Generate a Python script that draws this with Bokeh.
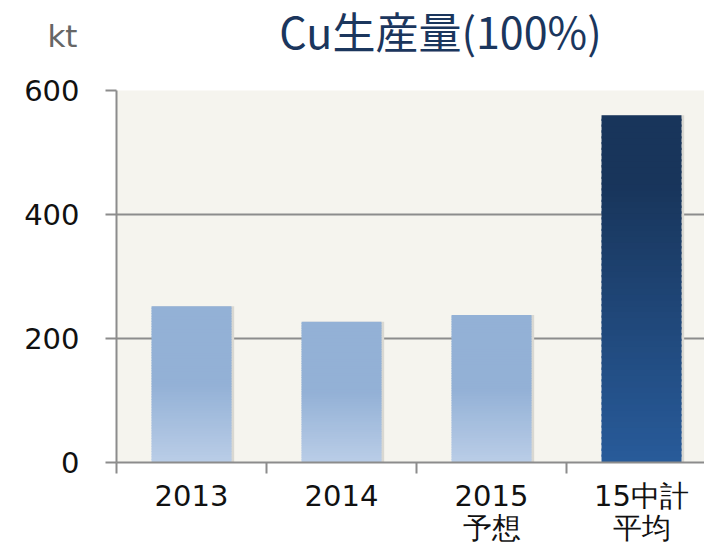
from bokeh.plotting import figure
from bokeh.layouts import column
from bokeh.models import Range1d, FixedTicker, ColumnDataSource, LinearAxis
from bokeh.core.properties import value
from bokeh.embed import file_html
from bokeh.resources import INLINE

# ---- data ----
categories = ["2013", "2014", "2015\n予想", "15中計\n平均"]
values = [252, 227, 238, 560]
kinds = ["light", "light", "light", "dark"]
y_ticks = [0, 200, 400, 600]
title_text = "Cu生産量(100%)"
unit_text = "kt"

# ---- gradient helpers ----
LIGHT_TOP = (147, 177, 214)
LIGHT_BOT = (186, 205, 231)
DARK_TOP = (24, 53, 91)
DARK_BOT = (40, 91, 154)


def mix(a, b, t):
    return "#%02x%02x%02x" % tuple(int(round(a[i] + (b[i] - a[i]) * t)) for i in range(3))


def shade(kind, t):
    # t: 0 at bar top, 1 at bar bottom
    if kind == "light":
        if t < 0.5:
            return mix(LIGHT_TOP, LIGHT_TOP, 0)
        return mix(LIGHT_TOP, LIGHT_BOT, (t - 0.5) / 0.5)
    if t < 0.2:
        return mix(DARK_TOP, DARK_TOP, 0)
    return mix(DARK_TOP, DARK_BOT, (t - 0.2) / 0.8)


N = 60
xs, bots, tops, cols = [], [], [], []
for i, (v, kind) in enumerate(zip(values, kinds)):
    for k in range(N):
        b = v * k / N
        t = min(v, v * (k + 1.4) / N)
        frac = 1 - (k + 0.5) / N
        xs.append(i + 0.5)
        bots.append(b)
        tops.append(t)
        cols.append(shade(kind, frac))
src = ColumnDataSource(dict(x=xs, bottom=bots, top=tops, color=cols))
shadow_src = ColumnDataSource(dict(x=[i + 0.5 + 0.012 for i in range(len(values))], top=values))

# ---- header strip (title and unit) ----
HEADER_H = 60
LEFT = 116
header = figure(width=704, height=HEADER_H,
                x_range=Range1d(LEFT, 704), y_range=Range1d(HEADER_H, 0),
                output_backend="svg", toolbar_location=None,
                x_axis_location=None, y_axis_location=None,
                min_border_left=LEFT, min_border_right=0,
                min_border_top=0, min_border_bottom=0)
header.outline_line_color = None
header.background_fill_color = "white"
header.border_fill_color = "white"
header.xgrid.visible = False
header.ygrid.visible = False
header.text(x=[440], y=[29], text=[title_text], text_align="center",
            text_baseline="alphabetic", text_font=value("Noto Sans CJK JP"),
            text_font_size="43px", text_color="#1B365D")
# unit label placed as a tick label of an invisible axis (outside the frame)
unit_axis = LinearAxis(ticker=FixedTicker(ticks=[35], minor_ticks=[]))
unit_axis.major_label_overrides = {35: unit_text}
unit_axis.axis_line_color = None
unit_axis.major_tick_line_color = None
unit_axis.major_tick_in = 0
unit_axis.major_tick_out = 0
unit_axis.major_label_standoff = 39
unit_axis.major_label_text_font = "DejaVu Sans"
unit_axis.major_label_text_font_size = "31px"
unit_axis.major_label_text_color = "#666666"
header.add_layout(unit_axis, "left")

# ---- main chart ----
p = figure(width=704, height=556 - HEADER_H,
           x_range=Range1d(0, 3.92), y_range=Range1d(0, 600),
           output_backend="svg", toolbar_location=None,
           x_axis_location=None, y_axis_location=None,
           min_border_left=LEFT, min_border_right=0,
           min_border_top=90 - HEADER_H, min_border_bottom=94)
p.outline_line_color = None
p.background_fill_color = "#F5F4EE"
p.border_fill_color = "white"

# y axis
yaxis = LinearAxis(ticker=FixedTicker(ticks=y_ticks, minor_ticks=[]))
yaxis.axis_line_color = "#8C8C8C"
yaxis.axis_line_width = 2
yaxis.major_tick_line_color = "#8C8C8C"
yaxis.major_tick_line_width = 2
yaxis.major_tick_in = 0
yaxis.major_tick_out = 11
yaxis.major_label_standoff = 26
yaxis.major_label_text_font = "DejaVu Sans"
yaxis.major_label_text_font_size = "29px"
yaxis.major_label_text_color = "#111111"
p.add_layout(yaxis, "left")

# x axis
centers = [i + 0.5 for i in range(len(categories))]
bounds = [float(i) for i in range(len(categories))]
xaxis = LinearAxis(ticker=FixedTicker(ticks=centers, minor_ticks=bounds))
xaxis.major_label_overrides = {c: lab for c, lab in zip(centers, categories)}
xaxis.axis_line_color = "#8C8C8C"
xaxis.axis_line_width = 2
xaxis.major_tick_line_color = None
xaxis.minor_tick_line_color = "#8C8C8C"
xaxis.minor_tick_line_width = 2
xaxis.minor_tick_in = 0
xaxis.minor_tick_out = 11
xaxis.major_tick_in = 0
xaxis.major_tick_out = 0
xaxis.major_label_standoff = 5
xaxis.major_label_text_font = "DejaVu Sans"
xaxis.major_label_text_font_size = "29px"
xaxis.major_label_text_line_height = 0.95
xaxis.major_label_text_color = "#111111"
p.add_layout(xaxis, "below")

p.ygrid.ticker = FixedTicker(ticks=y_ticks)
p.ygrid.grid_line_color = "#8C8C8C"
p.ygrid.grid_line_width = 2
p.xgrid.grid_line_color = None

# subtle shadow then gradient bars
p.vbar(x="x", top="top", bottom=0, width=0.545, source=shadow_src,
       fill_color="#D9D8D2", line_color=None)
p.vbar(x="x", top="top", bottom="bottom", width=0.533, source=src,
       fill_color="color", line_color=None)

layout = column(header, p, spacing=0)
open("out.html", "w").write(file_html(layout, INLINE))
